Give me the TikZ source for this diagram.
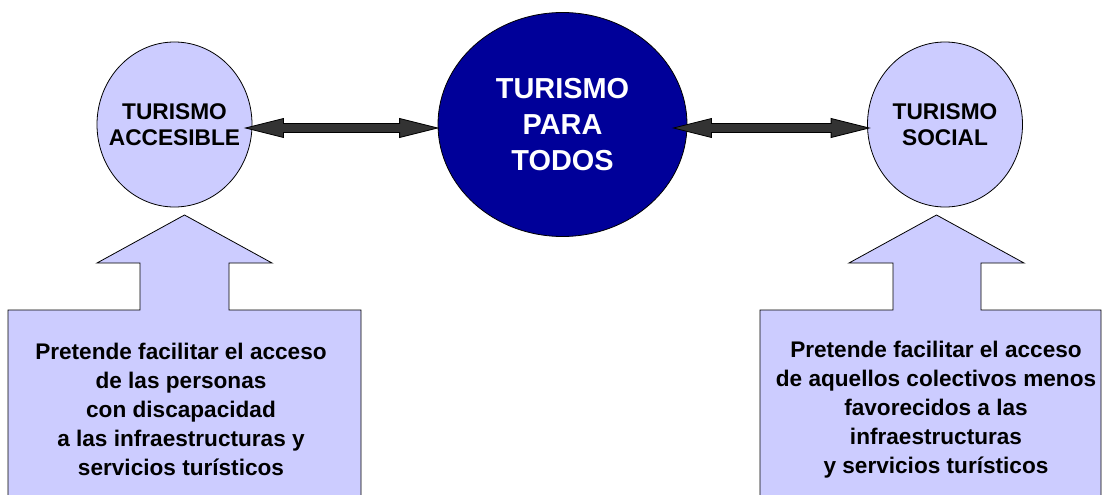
\documentclass[tikz,border=0pt]{standalone}
\usepackage{fontspec}
\setmainfont{Liberation Sans}
\usepackage{tikz}
\usetikzlibrary{shapes.geometric,calc}
\definecolor{lila}{HTML}{CCCCFF}
\definecolor{azul}{HTML}{000099}
\definecolor{gris}{HTML}{333333}
\newcommand{\fatarrow}[2]{\draw[conn] (#1) -- ++(38,-9.5) -- ++(0,5) -- ($(#2)+(-38,-4.5)$) -- ++(0,-5) -- (#2) -- ++(-38,9.5) -- ++(0,-5) -- ($(#1)+(38,4.5)$) -- ++(0,5) -- cycle;}

\begin{document}
\begin{tikzpicture}[x=1pt, y=-1pt, node distance={388pt}, line width=0.8pt, main/.style = {draw, ellipse, fill=lila, inner sep=0pt, minimum width=155pt, minimum height=165pt}, dark/.style = {draw, ellipse, fill=azul, inner sep=0pt, minimum width=249pt, minimum height=224pt}, txt/.style = {font=\fontsize{22.7}{26}\selectfont\bfseries, align=center}, box/.style = {font=\fontsize{22.6}{29}\selectfont\bfseries, align=center}, callout/.style = {draw, fill=lila}, conn/.style = {draw=black, fill=gris}]
                    \path[use as bounding box, clip] (0,0) rectangle (1103,495);
                    \node[main, label={[txt]center:{TURISMO\\ACCESIBLE}}] (acc) at (174.5,124.5) {};
                    \node[dark, text=white, font=\fontsize{28.9}{36}\selectfont\bfseries, align=center] (para) [right of=acc] {TURISMO\\PARA\\TODOS};
                    \node[main, label={[txt]center:{TURISMO\\SOCIAL}}] (soc) [node distance=382.5pt, right of=para] {};
                    \coordinate (a0) at ($(acc.east)+(-7,3.5)$);
                    \coordinate (a1) at ($(para.west)+(0,3.5)$);
                    \coordinate (b0) at ($(para.east)+(-14,3.5)$);
                    \coordinate (b1) at ($(soc.west)+(2,3.5)$);
                    \fatarrow{a0}{a1}
                    \fatarrow{b0}{b1}
                    \draw[callout] (8,310) -- (140,310) -- (140,263) -- (97,263) -- (184.5,215) -- (272,263) -- (229,263) -- (229,310) -- (361,310) -- (361,510) -- (8,510) -- cycle;
                    \draw[callout] (760,310) -- (893,310) -- (893,263) -- (849,263) -- (936.5,215) -- (1024,263) -- (981,263) -- (981,310) -- (1101,310) -- (1101,510) -- (760,510) -- cycle;
                    \node[box] (accTxt) at (181,409) {Pretende facilitar el acceso\\de las personas\\con discapacidad\\a las infraestructuras y\\servicios turísticos};
                    \node[box] (socTxt) at (936,410) {Pretende facilitar el acceso\\de aquellos colectivos menos\\favorecidos a las\\infraestructuras\\y servicios turísticos};
                \end{tikzpicture}
\end{document}
